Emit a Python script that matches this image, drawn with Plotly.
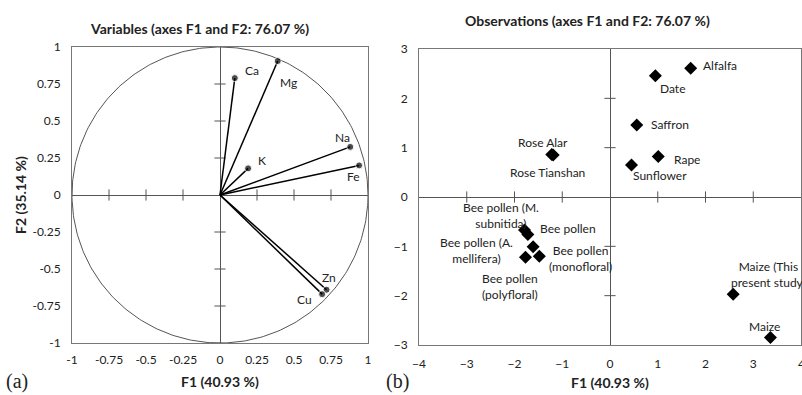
import numpy as np
import plotly.graph_objects as go

# ---------------- Data ----------------
var_names = ["Ca", "Mg", "K", "Na", "Fe", "Zn", "Cu"]
var_f1 = [0.10, 0.39, 0.19, 0.88, 0.94, 0.72, 0.69]
var_f2 = [0.79, 0.905, 0.18, 0.325, 0.20, -0.64, -0.67]
var_label_shift = {"Ca": (17, 8), "Mg": (11, -21), "K": (14, 8), "Na": (-8, 9),
                   "Fe": (-6, -11), "Zn": (2, 12), "Cu": (-18, -5)}

obs_names = ["Alfalfa", "Date", "Saffron", "Rape", "Sunflower", "Rose Alar", "Rose Tianshan",
             "Bee pollen (M.<br>subnitida)", "Bee pollen", "Bee pollen<br>(polyfloral)",
             "Bee pollen<br>(monofloral)", "Bee pollen (A.<br>mellifera)",
             "Maize (This<br>present study)", "Maize"]
obs_f1 = [1.69, 0.95, 0.56, 1.01, 0.45, -1.22, -1.19, -1.79, -1.72, -1.61, -1.48, -1.77, 2.58, 3.36]
obs_f2 = [2.61, 2.46, 1.46, 0.82, 0.65, 0.86, 0.85, -0.67, -0.76, -1.01, -1.20, -1.22, -1.97, -2.85]
obs_label_shift = [(10, 3, "left"), (17, -13, "center"), (12, 0, "left"), (14, -3, "left"),
                   (29, -11, "center"), (-9, 12, "center"), (-6, -17, "center"),
                   (-24, 15, "center"), (40, 6, "center"), (-23, -40, "center"),
                   (41, -2, "center"), (-10, 7, "right"), (-4, 20, "left"), (-6, 11, "center")]

left_ticks = [-1, -0.75, -0.5, -0.25, 0, 0.25, 0.5, 0.75, 1]
left_ticktext = ["-1", "-0.75", "-0.5", "-0.25", "0", "0.25", "0.5", "0.75", "1"]
right_xticks = [-4, -3, -2, -1, 0, 1, 2, 3, 4]
right_yticks = [-3, -2, -1, 0, 1, 2, 3]

title_left = "Variables (axes F1 and F2: 76.07 %)"
title_right = "Observations (axes F1 and F2: 76.07 %)"
xtitle = "F1 (40.93 %)"
ytitle = "F2 (35.14 %)"

FONT = "Lato, 'Open Sans', sans-serif"
TXT = "#222222"

fig = go.Figure()

# unit circle
theta = np.linspace(0, 2 * np.pi, 361)
fig.add_trace(go.Scatter(x=np.cos(theta), y=np.sin(theta), mode="lines",
                         line=dict(color="#555555", width=1), hoverinfo="skip",
                         xaxis="x", yaxis="y", showlegend=False))

# tick marks on zero lines (left)
inner = [t for t in left_ticks if t not in (-1, 0, 1)]
fig.add_trace(go.Scatter(x=inner, y=[0] * len(inner), mode="markers",
                         marker=dict(symbol="line-ns", size=8, line=dict(color="#555555", width=1)),
                         xaxis="x", yaxis="y", showlegend=False, hoverinfo="skip"))
fig.add_trace(go.Scatter(x=[0] * len(inner), y=inner, mode="markers",
                         marker=dict(symbol="line-ew", size=8, line=dict(color="#555555", width=1)),
                         xaxis="x", yaxis="y", showlegend=False, hoverinfo="skip"))

# variable vectors
for n, a, b in zip(var_names, var_f1, var_f2):
    fig.add_trace(go.Scatter(x=[0, a], y=[0, b], mode="lines+markers",
                             line=dict(color="black", width=1.5),
                             marker=dict(size=[0, 7], color="black"),
                             xaxis="x", yaxis="y", showlegend=False))
    dx, dy = var_label_shift[n]
    fig.add_annotation(x=a, y=b, xref="x", yref="y", text=n, showarrow=False,
                       xshift=dx, yshift=dy, font=dict(family=FONT, size=12, color=TXT))

# tick marks on zero lines (right)
rx = [t for t in right_xticks if t not in (-4, 0, 4)]
ry = [t for t in right_yticks if t not in (-3, 0, 3)]
fig.add_trace(go.Scatter(x=rx, y=[0] * len(rx), mode="markers",
                         marker=dict(symbol="line-ns", size=8, line=dict(color="#555555", width=1)),
                         xaxis="x2", yaxis="y2", showlegend=False, hoverinfo="skip"))
fig.add_trace(go.Scatter(x=[0] * len(ry), y=ry, mode="markers",
                         marker=dict(symbol="line-ew", size=8, line=dict(color="#555555", width=1)),
                         xaxis="x2", yaxis="y2", showlegend=False, hoverinfo="skip"))

# observations
fig.add_trace(go.Scatter(x=obs_f1, y=obs_f2, mode="markers",
                         marker=dict(symbol="diamond", size=10, color="black"),
                         xaxis="x2", yaxis="y2", showlegend=False, text=obs_names))
for n, a, b, (dx, dy, anc) in zip(obs_names, obs_f1, obs_f2, obs_label_shift):
    fig.add_annotation(x=a, y=b, xref="x2", yref="y2", text=n, showarrow=False,
                       xanchor=anc, xshift=dx, yshift=dy, align="center",
                       font=dict(family=FONT, size=12, color=TXT))

axis_common = dict(showgrid=False, showline=True, mirror=True, linecolor="#777777", linewidth=1,
                   zeroline=True, zerolinecolor="#555555", zerolinewidth=1, ticks="",
                   automargin=False, tickfont=dict(family=FONT, size=12, color=TXT))

fig.update_layout(
    width=802, height=395, margin=dict(l=0, r=0, t=0, b=0, autoexpand=False),
    paper_bgcolor="white", plot_bgcolor="white", showlegend=False,
    xaxis=dict(domain=[72 / 802, 368 / 802], range=[-1, 1], tickvals=left_ticks,
               ticktext=left_ticktext, anchor="y", ticklabelstandoff=6, **axis_common),
    yaxis=dict(domain=[1 - 343 / 395, 1 - 47 / 395], range=[-1, 1], tickvals=left_ticks,
               ticktext=left_ticktext, anchor="x", ticklabelstandoff=8, **axis_common),
    xaxis2=dict(domain=[419 / 802, 801 / 802], range=[-4, 4], tickvals=right_xticks,
                anchor="y2", ticklabelstandoff=8, **axis_common),
    yaxis2=dict(domain=[1 - 345 / 395, 1 - 49 / 395], range=[-3, 3], tickvals=right_yticks,
                anchor="x2", ticklabelstandoff=8, **axis_common),
)

# the last x tick label of the right panel sits on the page edge; draw it explicitly
fig.add_annotation(x=right_xticks[-1], y=1 - 363 / 395, xref="x2", yref="paper",
                   text=str(right_xticks[-1]), showarrow=False, xanchor="center", yanchor="middle",
                   font=dict(family=FONT, size=12, color=TXT))


def paper_text(px, py, text, size=14, family=FONT, angle=0, xanchor="center"):
    fig.add_annotation(x=px / 802, y=1 - py / 395, xref="paper", yref="paper", text=text,
                       xanchor=xanchor, yanchor="middle", showarrow=False, textangle=angle,
                       font=dict(family=family, size=size, color=TXT))


paper_text(199, 29, "<b>" + title_left + "</b>")
paper_text(587, 20, "<b>" + title_right + "</b>")
paper_text(220, 381, "<b>" + xtitle + "</b>")
paper_text(610, 382, "<b>" + xtitle + "</b>")
paper_text(20, 195, "<b>" + ytitle + "</b>", angle=-90)
paper_text(4, 381, "(a)", size=20, family="'Liberation Serif', serif", xanchor="left")
paper_text(384, 381, "(b)", size=20, family="'Liberation Serif', serif", xanchor="left")

fig.write_html("out.html", config={"displayModeBar": False},
               post_script="document.body.style.margin='0';")
